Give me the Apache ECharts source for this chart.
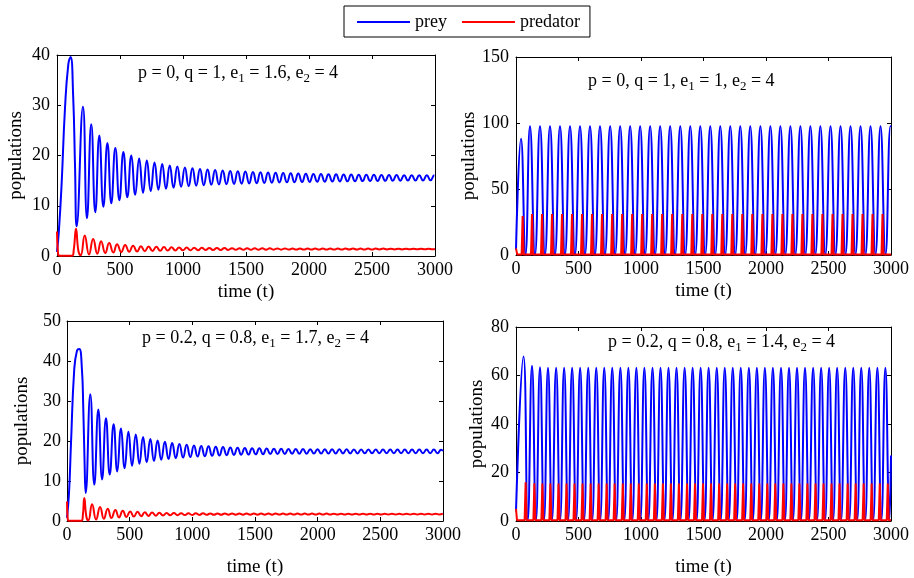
<!DOCTYPE html>
<html>
<head>
<meta charset="utf-8">
<script src="https://cdn.jsdelivr.net/npm/echarts@6/dist/echarts.min.js"></script>
<style>html,body{margin:0;padding:0;background:#fff}#c{width:914px;height:578px}</style>
</head>
<body>
<div id="c"></div>
<script>
// ---------- DATA ----------
const timeTicks = [0, 500, 1000, 1500, 2000, 2500, 3000];
const seriesNames = ['prey', 'predator'];
const panelTitles = [
  'p = 0, q = 1, e{s|1} = 1.6, e{s|2} = 4',
  'p = 0, q = 1, e{s|1} = 1, e{s|2} = 4',
  'p = 0.2, q = 0.8, e{s|1} = 1.7, e{s|2} = 4',
  'p = 0.2, q = 0.8, e{s|1} = 1.4, e{s|2} = 4'
];
const yMax = [40, 150, 50, 80];
const yStep = [10, 50, 10, 20];

// Panel 1 (top-left): [time, population]
const p1Prey = [[0,0.8],[15,5],[37,14.5],[63,29.2],[90,38.2],[108,39.6],[128,32],[143,17.9],[156,5.9],
[206,29.7],[238,7.5],[272,26.2],[304,8.7],[336,24.0],[368,9.8],[400,22.5],[431,10.5],[463,21.5],[495,11.1],[527,20.7],[558,11.7],[590,20.0],[621,12.2],[652,19.4],[683,12.6],[713,19.0],[744,12.9],[774,18.6],[805,13.2],
[835,18.3],[865,13.4],[895,18.0],[925,13.6],[955,17.8],[985,13.8],[1015,17.6],[1045,13.9],[1075,17.45],[1105,14.0],[1135,17.3],[1165,14.1],[1195,17.2],[1225,14.2],[1255,17.1],[1285,14.25],[1315,17.0],[1345,14.3],[1375,16.9],[1405,14.35],[1435,16.85],[1465,14.4],[1495,16.8],[1525,14.45],[1555,16.72],[1585,14.5],[1615,16.65],[1645,14.55],[1675,16.6],[1705,14.6],[1735,16.55],[1765,14.63],[1795,16.5],[1825,14.66],[1855,16.45],[1885,14.7],[1915,16.4],[1945,14.72],[1975,16.35],[2005,14.75],[2035,16.32],[2065,14.78],[2095,16.3],[2125,14.8],[2155,16.27],[2185,14.82],[2215,16.25],[2245,14.85],[2275,16.22],[2305,14.87],[2335,16.2],[2365,14.89],[2395,16.18],[2425,14.91],[2455,16.16],[2485,14.93],[2515,16.15],[2545,14.95],[2575,16.13],[2605,14.96],[2635,16.12],[2665,14.98],[2695,16.1],[2725,15.0],[2755,16.09],[2785,15.01],[2815,16.08],[2845,15.02],[2875,16.07],[2905,15.04],[2935,16.06],[2965,15.05],[2995,16.05],[3000,16.0]];
const p1Pred = [[0,4.9],[8,0.6],[20,0.05],[120,0.05],[133,1.2],[151,5.4],[170,1.0],[188,0.15],[220,4.1],[254,0.3],[287,3.4],[320,0.45],[350,2.95],[383,0.58],[414,2.6],[447,0.68],[477,2.35],[510,0.77],[541,2.2],[573,0.85],[604,2.05],[636,0.9],[666,1.95],[697,0.96],[727,1.88],[758,1.0],[788,1.82],[819,1.04],[849,1.77],[879,1.07],[909,1.73],[939,1.1],[969,1.7],[999,1.12],[1029,1.67],[1059,1.14],[1089,1.64],[1119,1.16],[1149,1.62],[1179,1.18],[1209,1.6],[1239,1.19],[1269,1.58],[1299,1.2],[1329,1.57],[1359,1.21],[1389,1.56],[1419,1.22],[1449,1.55],[1479,1.23],[1509,1.54],[1539,1.24],[1569,1.53],[1599,1.25],[1629,1.52],[1659,1.25],[1689,1.52],[1719,1.26],[1749,1.51],[1779,1.26],[1809,1.51],[1839,1.27],[1869,1.5],[1899,1.27],[1929,1.5],[1959,1.28],[1989,1.5],[2019,1.28],[2049,1.49],[2079,1.28],[2109,1.49],[2139,1.29],[2169,1.49],[2199,1.29],[2229,1.48],[2259,1.29],[2289,1.48],[2319,1.3],[2349,1.48],[2379,1.3],[2409,1.47],[2439,1.3],[2469,1.47],[2499,1.3],[2529,1.47],[2559,1.31],[2589,1.47],[2619,1.31],[2649,1.46],[2679,1.31],[2709,1.46],[2739,1.31],[2769,1.46],[2799,1.32],[2829,1.46],[2859,1.32],[2889,1.45],[2919,1.32],[2949,1.45],[2979,1.32],[3000,1.4]];

// Panel 2 (top-right)
const p2Prey = [[0,4],[40,88],[76,0.3],[112,97.5],[152,0.3],[192,97.5],[232,0.3],[272,97.5],[312,0.3],[352,97.5],[392,0.3],[432,97.5],[472,0.3],[512,97.5],[552,0.3],[592,97.5],[632,0.3],[672,97.5],[712,0.3],[753,97.5],[793,0.3],[833,97.5],[873,0.3],[913,97.5],[953,0.3],[993,97.5],[1033,0.3],[1073,97.5],[1113,0.3],[1153,97.5],[1193,0.3],[1233,97.5],[1273,0.3],[1314,97.5],[1354,0.3],[1394,97.5],[1434,0.3],[1474,97.5],[1514,0.3],[1554,97.5],[1594,0.3],[1634,97.5],[1674,0.3],[1714,97.5],[1754,0.3],[1794,97.5],[1834,0.3],[1874,97.5],[1914,0.3],[1955,97.5],[1995,0.3],[2035,97.5],[2075,0.3],[2115,97.5],[2155,0.3],[2195,97.5],[2235,0.3],[2275,97.5],[2315,0.3],[2355,97.5],[2395,0.3],[2435,97.5],[2475,0.3],[2516,97.5],[2556,0.3],[2596,97.5],[2636,0.3],[2676,97.5],[2716,0.3],[2756,97.5],[2796,0.3],[2836,97.5],[2876,0.3],[2916,97.5],[2956,0.3],[2996,97.5],[3000,97]];
const p2Pred = [[0,5],[10,0.3],[45,0.3],[53,29.5],[61,0.3],[120,0.3],[128,31],[136,0.3],[200,0.3],[208,31],[216,0.3],[280,0.3],[288,31],[296,0.3],[360,0.3],[368,31],[376,0.3],[440,0.3],[448,31],[456,0.3],[520,0.3],[528,31],[536,0.3],[600,0.3],[608,31],[616,0.3],[680,0.3],[688,31],[696,0.3],[761,0.3],[769,31],[777,0.3],[841,0.3],[849,31],[857,0.3],[921,0.3],[929,31],[937,0.3],[1001,0.3],[1009,31],[1017,0.3],[1081,0.3],[1089,31],[1097,0.3],[1161,0.3],[1169,31],[1177,0.3],[1241,0.3],[1249,31],[1257,0.3],[1322,0.3],[1330,31],[1338,0.3],[1402,0.3],[1410,31],[1418,0.3],[1482,0.3],[1490,31],[1498,0.3],[1562,0.3],[1570,31],[1578,0.3],[1642,0.3],[1650,31],[1658,0.3],[1722,0.3],[1730,31],[1738,0.3],[1802,0.3],[1810,31],[1818,0.3],[1882,0.3],[1890,31],[1898,0.3],[1963,0.3],[1971,31],[1979,0.3],[2043,0.3],[2051,31],[2059,0.3],[2123,0.3],[2131,31],[2139,0.3],[2203,0.3],[2211,31],[2219,0.3],[2283,0.3],[2291,31],[2299,0.3],[2363,0.3],[2371,31],[2379,0.3],[2443,0.3],[2451,31],[2459,0.3],[2524,0.3],[2532,31],[2540,0.3],[2604,0.3],[2612,31],[2620,0.3],[2684,0.3],[2692,31],[2700,0.3],[2764,0.3],[2772,31],[2780,0.3],[2844,0.3],[2852,31],[2860,0.3],[2924,0.3],[2932,31],[2940,0.3],[3000,0.3]];

// Panel 3 (bottom-left)
const p3Prey = [[0,0.8],[16,7],[32,19.5],[58,38],[80,42.6],[98,43.0],[118,38.5],[130,28],[140,15],[149,7.0],
[186,31.7],[218,9.1],[250,27.9],[280,10.4],[311,25.7],[341,11.6],[372,24.2],[401,12.4],[431,23.1],[460,13.2],[490,22.3],[519,13.8],[549,21.6],[578,14.3],[607,21.0],[636,14.7],[665,20.5],[694,15.0],[723,20.1],[752,15.3],[781,19.8],[810,15.5],[839,19.5],[868,15.7],[897,19.25],[926,15.85],[955,19.05],[984,16.0],[1013,18.9],[1042,16.1],[1071,18.78],[1100,16.2],[1129,18.67],[1158,16.3],[1187,18.57],[1216,16.38],[1245,18.48],[1274,16.45],[1303,18.4],[1332,16.52],[1361,18.33],[1390,16.57],[1419,18.27],[1448,16.62],[1477,18.21],[1506,16.67],[1535,18.16],[1564,16.7],[1593,18.12],[1622,16.73],[1651,18.08],[1680,16.76],[1709,18.05],[1738,16.78],[1767,18.02],[1796,16.8],[1825,18.0],[1854,16.82],[1883,17.98],[1912,16.84],[1941,17.96],[1970,16.85],[1999,17.95],[2028,16.86],[2057,17.94],[2086,16.87],[2115,17.93],[2144,16.88],[2173,17.92],[2202,16.89],[2231,17.91],[2260,16.9],[2289,17.9],[2318,16.9],[2347,17.9],[2376,16.91],[2405,17.89],[2434,16.91],[2463,17.88],[2492,16.92],[2521,17.88],[2550,16.92],[2579,17.87],[2608,16.93],[2637,17.87],[2666,16.93],[2695,17.86],[2724,16.94],[2753,17.86],[2782,16.94],[2811,17.85],[2840,16.95],[2869,17.85],[2898,16.95],[2927,17.85],[2956,16.95],[2985,17.84],[3000,17.5]];
const p3Pred = [[0,4.9],[6,0.5],[15,0.05],[115,0.05],[126,1.2],[138,5.75],[155,1.0],[170,0.15],[200,4.2],[232,0.35],[264,3.5],[294,0.55],[325,3.05],[355,0.75],[386,2.75],[415,0.9],[445,2.55],[474,1.0],[504,2.4],[533,1.1],[563,2.3],[592,1.2],[621,2.2],[650,1.27],[679,2.12],[708,1.33],[737,2.06],[766,1.38],[795,2.01],[824,1.42],[853,1.97],[882,1.46],[911,1.95],[940,1.49],[969,1.93],[998,1.51],[1027,1.92],[1056,1.53],[1085,1.91],[1114,1.54],[1143,1.9],[1172,1.55],[1201,1.89],[1230,1.56],[1259,1.89],[1288,1.57],[1317,1.88],[1346,1.57],[1375,1.88],[1404,1.58],[1433,1.87],[1462,1.58],[1491,1.87],[1520,1.59],[1549,1.87],[1578,1.59],[1607,1.86],[1636,1.59],[1665,1.86],[1694,1.6],[1723,1.86],[1752,1.6],[1781,1.86],[1810,1.6],[1839,1.85],[1868,1.6],[1897,1.85],[1926,1.61],[1955,1.85],[1984,1.61],[2013,1.85],[2042,1.61],[2071,1.85],[2100,1.61],[2129,1.84],[2158,1.61],[2187,1.84],[2216,1.62],[2245,1.84],[2274,1.62],[2303,1.84],[2332,1.62],[2361,1.84],[2390,1.62],[2419,1.84],[2448,1.62],[2477,1.83],[2506,1.62],[2535,1.83],[2564,1.63],[2593,1.83],[2622,1.63],[2651,1.83],[2680,1.63],[2709,1.83],[2738,1.63],[2767,1.83],[2796,1.63],[2825,1.83],[2854,1.63],[2883,1.83],[2912,1.63],[2941,1.83],[2970,1.63],[2999,1.83]];

// Panel 4 (bottom-right)
const p4Prey = [[0,4],[60,67.8],[94,0.3],[128,64.0],[160,0.3],[192,63.4],[224,0.3],[256,63.2],[288,0.3],[321,63.2],[353,0.3],[385,63.2],[417,0.3],[449,63.2],[481,0.3],[513,63.2],[545,0.3],[578,63.2],[610,0.3],[642,63.2],[674,0.3],[706,63.2],[738,0.3],[770,63.2],[802,0.3],[835,63.2],[867,0.3],[899,63.2],[931,0.3],[963,63.2],[995,0.3],[1027,63.2],[1059,0.3],[1092,63.2],[1124,0.3],[1156,63.2],[1188,0.3],[1220,63.2],[1252,0.3],[1284,63.2],[1316,0.3],[1349,63.2],[1381,0.3],[1413,63.2],[1445,0.3],[1477,63.2],[1509,0.3],[1541,63.2],[1573,0.3],[1606,63.2],[1638,0.3],[1670,63.2],[1702,0.3],[1734,63.2],[1766,0.3],[1798,63.2],[1830,0.3],[1863,63.2],[1895,0.3],[1927,63.2],[1959,0.3],[1991,63.2],[2023,0.3],[2055,63.2],[2087,0.3],[2120,63.2],[2152,0.3],[2184,63.2],[2216,0.3],[2248,63.2],[2280,0.3],[2312,63.2],[2344,0.3],[2377,63.2],[2409,0.3],[2441,63.2],[2473,0.3],[2505,63.2],[2537,0.3],[2569,63.2],[2601,0.3],[2634,63.2],[2666,0.3],[2698,63.2],[2730,0.3],[2762,63.2],[2794,0.3],[2826,63.2],[2858,0.3],[2891,63.2],[2923,0.3],[2955,63.2],[2987,0.3],[3000,27]];
const p4Pred = [[0,5],[8,0.3],[69,0.3],[77,16],[85,0.3],[139,0.3],[147,15.6],[155,0.3],[203,0.3],[211,15.5],[219,0.3],[267,0.3],[275,15.5],[283,0.3],[332,0.3],[340,15.5],[348,0.3],[396,0.3],[404,15.5],[412,0.3],[460,0.3],[468,15.5],[476,0.3],[524,0.3],[532,15.5],[540,0.3],[589,0.3],[597,15.5],[605,0.3],[653,0.3],[661,15.5],[669,0.3],[717,0.3],[725,15.5],[733,0.3],[781,0.3],[789,15.5],[797,0.3],[846,0.3],[854,15.5],[862,0.3],[910,0.3],[918,15.5],[926,0.3],[974,0.3],[982,15.5],[990,0.3],[1038,0.3],[1046,15.5],[1054,0.3],[1103,0.3],[1111,15.5],[1119,0.3],[1167,0.3],[1175,15.5],[1183,0.3],[1231,0.3],[1239,15.5],[1247,0.3],[1295,0.3],[1303,15.5],[1311,0.3],[1360,0.3],[1368,15.5],[1376,0.3],[1424,0.3],[1432,15.5],[1440,0.3],[1488,0.3],[1496,15.5],[1504,0.3],[1552,0.3],[1560,15.5],[1568,0.3],[1617,0.3],[1625,15.5],[1633,0.3],[1681,0.3],[1689,15.5],[1697,0.3],[1745,0.3],[1753,15.5],[1761,0.3],[1809,0.3],[1817,15.5],[1825,0.3],[1874,0.3],[1882,15.5],[1890,0.3],[1938,0.3],[1946,15.5],[1954,0.3],[2002,0.3],[2010,15.5],[2018,0.3],[2066,0.3],[2074,15.5],[2082,0.3],[2131,0.3],[2139,15.5],[2147,0.3],[2195,0.3],[2203,15.5],[2211,0.3],[2259,0.3],[2267,15.5],[2275,0.3],[2323,0.3],[2331,15.5],[2339,0.3],[2388,0.3],[2396,15.5],[2404,0.3],[2452,0.3],[2460,15.5],[2468,0.3],[2516,0.3],[2524,15.5],[2532,0.3],[2580,0.3],[2588,15.5],[2596,0.3],[2645,0.3],[2653,15.5],[2661,0.3],[2709,0.3],[2717,15.5],[2725,0.3],[2773,0.3],[2781,15.5],[2789,0.3],[2837,0.3],[2845,15.5],[2853,0.3],[2902,0.3],[2910,15.5],[2918,0.3],[2966,0.3],[2974,15.5],[2982,0.3],[3000,0.3]];

// ---------- LAYOUT / STYLE ----------
const FONT = '"Liberation Serif", "Times New Roman", serif';
const grids = [
  {left: 57, top: 55, width: 378, height: 201},
  {left: 516, top: 57, width: 375, height: 198},
  {left: 67, top: 321, width: 376, height: 200},
  {left: 516, top: 327, width: 375, height: 196}
];
const yNameGap = [31, 36, 35, 29];
const yLabelMargin = [7, 7, 6, 7];
const xNameGap = [27, 27, 37, 37];
const titlePos = [[138, 61], [588, 69], [142, 326], [608, 330]];
const preyData = [p1Prey, p2Prey, p3Prey, p4Prey];
const predData = [p1Pred, p2Pred, p3Pred, p4Pred];
const predSmooth = [true, false, true, false];

const axisLine = {show: true, onZero: false, lineStyle: {color: '#000', width: 1}};
const axisTick = {show: true, inside: true, length: 4, lineStyle: {color: '#000', width: 1}};
const plainNum = v => String(v);

const xAxis = [], yAxis = [], series = [], title = [];
for (let i = 0; i < 4; i++) {
  xAxis.push({
    gridIndex: i, type: 'value', position: 'bottom',
    min: timeTicks[0], max: timeTicks[timeTicks.length - 1], interval: timeTicks[1] - timeTicks[0],
    axisLine, axisTick, splitLine: {show: false},
    axisLabel: {show: true, color: '#000', fontFamily: FONT, fontSize: 18, margin: 5, formatter: plainNum},
    name: 'time (t)', nameLocation: 'middle', nameGap: xNameGap[i],
    nameTextStyle: {color: '#000', fontFamily: FONT, fontSize: 19}
  });
  xAxis.push({
    gridIndex: i, type: 'value', position: 'top',
    min: timeTicks[0], max: timeTicks[timeTicks.length - 1], interval: timeTicks[1] - timeTicks[0],
    axisLine, axisTick, splitLine: {show: false}, axisLabel: {show: false}
  });
  yAxis.push({
    gridIndex: i, type: 'value', position: 'left', min: 0, max: yMax[i], interval: yStep[i],
    axisLine, axisTick, splitLine: {show: false},
    axisLabel: {show: true, color: '#000', fontFamily: FONT, fontSize: 18, margin: yLabelMargin[i], formatter: plainNum},
    name: 'populations', nameLocation: 'middle', nameGap: yNameGap[i],
    nameTextStyle: {color: '#000', fontFamily: FONT, fontSize: 19}
  });
  yAxis.push({
    gridIndex: i, type: 'value', position: 'right', min: 0, max: yMax[i], interval: yStep[i],
    axisLine, axisTick, splitLine: {show: false}, axisLabel: {show: false}
  });
  series.push({
    name: seriesNames[0], type: 'line', xAxisIndex: 2 * i, yAxisIndex: 2 * i,
    data: preyData[i], smooth: true, showSymbol: false, symbol: 'none',
    lineStyle: {color: '#0000ff', width: 2}, itemStyle: {color: '#0000ff'}, silent: true
  });
  series.push({
    name: seriesNames[1], type: 'line', xAxisIndex: 2 * i, yAxisIndex: 2 * i,
    data: predData[i], smooth: predSmooth[i], showSymbol: false, symbol: 'none',
    lineStyle: {color: '#ff0000', width: 2}, itemStyle: {color: '#ff0000'}, silent: true
  });
  title.push({
    text: panelTitles[i], left: titlePos[i][0], top: titlePos[i][1], padding: 0,
    textStyle: {
      fontFamily: FONT, fontSize: 18, fontWeight: 'normal', color: '#000', lineHeight: 24,
      rich: {s: {fontFamily: FONT, fontSize: 13, lineHeight: 12, verticalAlign: 'bottom', color: '#000'}}
    }
  });
}

const chart = echarts.init(document.getElementById('c'), null, {renderer: 'canvas'});
chart.setOption({
  animation: false,
  backgroundColor: '#fff',
  title,
  legend: {
    data: seriesNames, left: 344, top: 6, orient: 'horizontal', icon: 'rect',
    itemWidth: 53, itemHeight: 2, itemGap: 15, selectedMode: false,
    borderColor: '#000', borderWidth: 1, padding: [7, 10, 6, 13],
    textStyle: {fontFamily: FONT, fontSize: 18, color: '#000'}
  },
  grid: grids,
  xAxis, yAxis, series
});
</script>
</body>
</html>
